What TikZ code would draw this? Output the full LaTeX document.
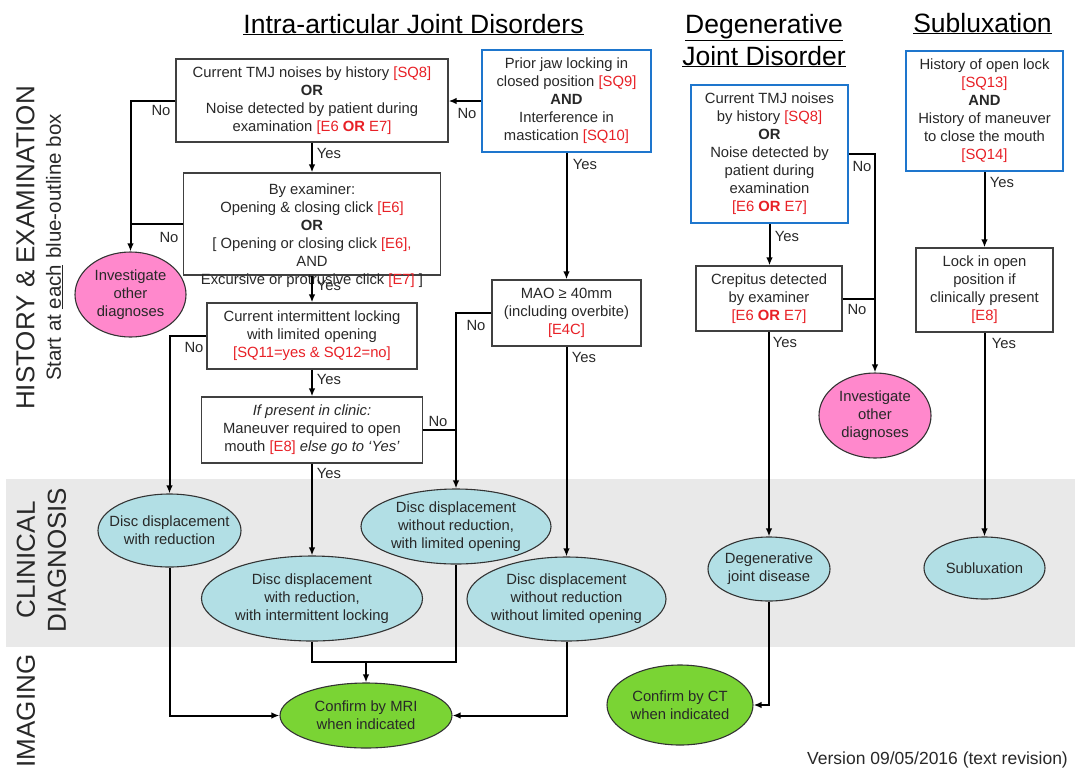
\documentclass[tikz,border=0pt]{standalone}
\usepackage{fontspec}
\setmainfont{Liberation Sans}
\usetikzlibrary{shapes.geometric,arrows.meta}
\definecolor{redc}{RGB}{232,32,38}
\definecolor{bluec}{RGB}{30,118,205}
\definecolor{cyanc}{RGB}{178,223,229}
\definecolor{pinkc}{RGB}{255,136,204}
\definecolor{greenc}{RGB}{122,212,52}
\definecolor{bandc}{RGB}{233,233,233}
\definecolor{txtc}{RGB}{40,40,40}
\newcommand{\rd}[1]{\textcolor{redc}{#1}}
\begin{document}
\begin{tikzpicture}[x=1pt,y=-1pt,
  every node/.style={text=txtc, font=\fontsize{14.8}{18}\selectfont, align=center, inner sep=0pt},
  wh/.style 2 args={minimum width=#1, minimum height=#2},
  box/.style={rectangle, draw=black!75, line width=1.2pt, fill=white},
  bbox/.style={rectangle, draw=bluec, line width=2.4pt, fill=white},
  ell/.style={ellipse, draw=black!80, line width=1.1pt, inner sep=-25pt},
  cyanell/.style={ell, fill=cyanc},
  pinkell/.style={ell, fill=pinkc},
  greenell/.style={ell, fill=greenc},
  conn/.style={draw=black, line width=2pt},
  arr/.style={conn, -{Latex[length=8pt,width=6.5pt]}},
  lbl/.style={font=\fontsize{14.8}{18}\selectfont},
  title/.style={text=black, font=\fontsize{26.5}{32}\selectfont, anchor=base},
  side/.style={text=txtc, font=\fontsize{26}{31}\selectfont, rotate=90},
]
\useasboundingbox (0,0) rectangle (1075,769);
\fill[bandc] (6,479) rectangle (1075,647);

% titles
\node[title] (t1) at (413.5,33) {\underline{Intra-articular Joint Disorders}};
\node[title] (t2a) at (764,33) {\underline{Degenerative}};
\node[title] (t2b) at (764,65) {\underline{Joint Disorder}};
\node[title] (t3) at (982.5,32) {\underline{Subluxation}};

% side labels
\node[side] (s1) at (25.5,248) {HISTORY \& EXAMINATION};
\node[side, font=\fontsize{20.5}{24}\selectfont] (s2) at (54.5,247.5) {Start at \underline{each} blue-outline box};
\node[side] (s3) at (41.5,560) {CLINICAL\\DIAGNOSIS};
\node[side] (s4) at (26,711) {IMAGING};

% boxes
\node[box, wh={272pt}{83pt}] (A) at (312,100.5) {Current TMJ noises by history \rd{[SQ8]}\\\textbf{OR}\\Noise detected by patient during\\examination \rd{[E6 \textbf{OR} E7]}};
\node[bbox, wh={169pt}{102pt}] (B) at (566.5,101) {Prior jaw locking in\\closed position \rd{[SQ9]}\\\textbf{AND}\\Interference in\\mastication \rd{[SQ10]}};
\node[box, wh={257pt}{102pt}] (C) at (312,224) {};
\node (Ct) at (312,236) {By examiner:\\Opening \& closing click \rd{[E6]}\\\textbf{OR}\\{[} Opening or closing click \rd{[E6],}\\AND\\Excursive or protrusive click \rd{[E7]} ]};
\node[box, wh={210pt}{66pt}] (D) at (312,336) {Current intermittent locking\\with limited opening\\\rd{[SQ11=yes \& SQ12=no]}};
\node[box, wh={221pt}{66pt}] (E) at (312,430) {\textit{If present in clinic:}\\Maneuver required to open\\mouth \rd{[E8]} \textit{else go to ‘Yes’}};
\node[box, wh={149pt}{66pt}] (F) at (566.5,313) {MAO ≥ 40mm\\(including overbite)\\\rd{[E4C]}};
\node[bbox, wh={157pt}{138pt}] (G) at (769.5,154) {Current TMJ noises\\by history \rd{[SQ8]}\\\textbf{OR}\\Noise detected by\\patient during\\examination\\\rd{[E6 \textbf{OR} E7]}};
\node[box, wh={146pt}{65pt}] (H) at (769,298.5) {Crepitus detected\\by examiner\\\rd{[E6 \textbf{OR} E7]}};
\node[bbox, wh={157pt}{120pt}] (I) at (984.5,111) {History of open lock\\\rd{[SQ13]}\\\textbf{AND}\\History of maneuver\\to close the mouth\\\rd{[SQ14]}};
\node[box, wh={137pt}{84pt}] (J) at (984.5,290) {Lock in open\\position if\\clinically present\\\rd{[E8]}};

% ellipses
\node[pinkell, wh={111pt}{85pt}] (P1) at (130.5,294.5) {Investigate\\other\\diagnoses};
\node[pinkell, wh={112pt}{85pt}] (P2) at (875,415.5) {Investigate\\other\\diagnoses};
\node[cyanell, wh={143pt}{73pt}] (E1) at (169.5,530.5) {Disc displacement\\with reduction};
\node[cyanell, wh={221pt}{85pt}] (E2) at (312,598.5) {Disc displacement\\with reduction,\\with intermittent locking};
\node[cyanell, wh={190pt}{75pt}] (E3) at (456,526.5) {Disc displacement\\without reduction,\\with limited opening};
\node[cyanell, wh={199pt}{84pt}] (E4) at (566.5,599) {Disc displacement\\without reduction\\without limited opening};
\node[cyanell, wh={122pt}{64pt}] (Dg) at (769,569) {Degenerative\\joint disease};
\node[cyanell, wh={121pt}{62pt}] (Sb) at (984.5,568) {Subluxation};
\node[greenell, wh={172pt}{65pt}] (MRI) at (366,715.5) {Confirm by MRI\\when indicated};
\node[greenell, wh={146pt}{80pt}] (CT) at (680,705) {Confirm by CT\\when indicated};

\coordinate (j1) at (366,662);

% connectors
\draw[arr] (B.west) -- (B.west -| A.east);
\draw[arr] (A.west) -| (P1.north);
\draw[conn] (C.west) -- (C.west -| P1.north);
\draw[arr] (A.south) -- (C.north);
\draw[arr] (C.south) -- (D.north);
\draw[arr] (D.south) -- (E.north);
\draw[arr] (D.west) -| (E1.north);
\draw[arr] (E.east) -| (E3.north);
\draw[conn] (F.west) -| (E.east -| E3.north);
\draw[arr] (E.south) -- (E2.north);
\draw[arr] (B.south) -- (F.north);
\draw[arr] (F.south) -- (E4.north);
\draw[arr] (E1.south) |- (MRI.west);
\draw[conn] (E2.south) |- (E3.south |- j1) -- (E3.south);
\draw[arr] (j1) -- (MRI.north);
\draw[arr] (E4.south) |- (MRI.east);
\draw[arr] (G.east) -| (P2.north);
\draw[conn] (H.east) -- (H.east -| P2.north);
\draw[arr] (G.south) -- (G.south |- H.north);
\draw[arr] (H.south) -- (Dg.north);
\draw[arr] (Dg.south) |- (CT.east);
\draw[arr] (I.south) -- (J.north);
\draw[arr] (J.south) -- (Sb.north);

% labels
\node[lbl] (n1) at (161,110) {No};
\node[lbl] (n2) at (467,113) {No};
\node[lbl] (y1) at (329,153) {Yes};
\node[lbl] (n3) at (169,237) {No};
\node[lbl] (y2) at (329,285) {Yes};
\node[lbl] (y3) at (329,379) {Yes};
\node[lbl] (n4) at (194,347) {No};
\node[lbl] (n5) at (438,421) {No};
\node[lbl] (y4) at (329,473) {Yes};
\node[lbl] (n6) at (476,325) {No};
\node[lbl] (y5) at (585,164) {Yes};
\node[lbl] (y6) at (584,357) {Yes};
\node[lbl] (y7) at (787,236) {Yes};
\node[lbl] (n7) at (862,166) {No};
\node[lbl] (n8) at (857,309) {No};
\node[lbl] (y8) at (785,342) {Yes};
\node[lbl] (y9) at (1002,182) {Yes};
\node[lbl] (y10) at (1004,343) {Yes};

\node[font=\fontsize{17.5}{20}\selectfont] (ver) at (937.5,760) {Version 09/05/2016 (text revision)};
\end{tikzpicture}
\end{document}
